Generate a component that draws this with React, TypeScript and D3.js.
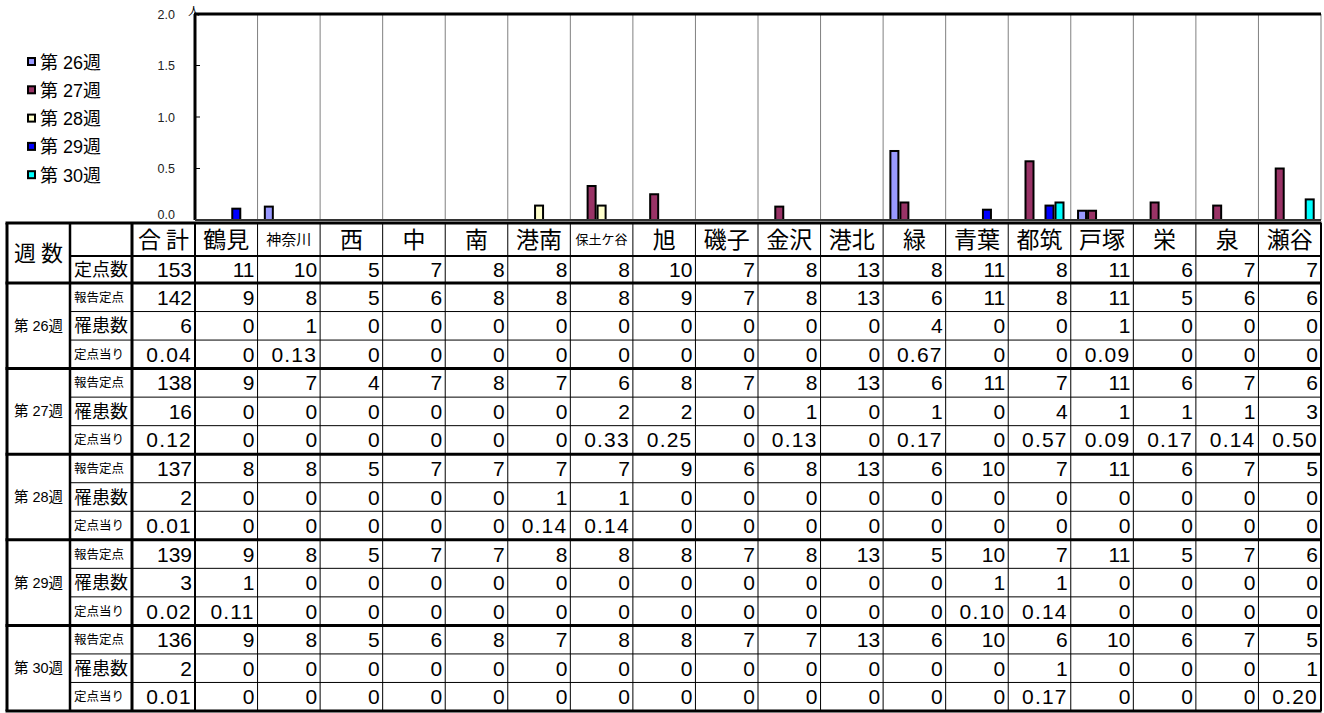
import React from 'react';
import * as d3 from 'd3';

// districts (columns of chart and table)
const districts = ['鶴見', '神奈川', '西', '中', '南', '港南', '保土ケ谷', '旭', '磯子', '金沢', '港北', '緑', '青葉', '都筑', '戸塚', '栄', '泉', '瀬谷'];
const weekLabels = ['第 26週', '第 27週', '第 28週', '第 29週', '第 30週'];
const weekColors = ['#9999FF', '#993366', '#FFFFCC', '#0000FF', '#00FFFF'];
const yTicks = [0, 0.5, 1.0, 1.5, 2.0];

// 定点数 (total first)
const sentinelTotal = 153;
const sentinels = [11, 10, 5, 7, 8, 8, 8, 10, 7, 8, 13, 8, 11, 8, 11, 6, 7, 7];

// week 26
const report26 = [142, 9, 8, 5, 6, 8, 8, 8, 9, 7, 8, 13, 6, 11, 8, 11, 5, 6, 6];
const cases26 = [6, 0, 1, 0, 0, 0, 0, 0, 0, 0, 0, 0, 4, 0, 0, 1, 0, 0, 0];
const rate26 = [0.04, 0, 0.13, 0, 0, 0, 0, 0, 0, 0, 0, 0, 0.67, 0, 0, 0.09, 0, 0, 0];
// week 27
const report27 = [138, 9, 7, 4, 7, 8, 7, 6, 8, 7, 8, 13, 6, 11, 7, 11, 6, 7, 6];
const cases27 = [16, 0, 0, 0, 0, 0, 0, 2, 2, 0, 1, 0, 1, 0, 4, 1, 1, 1, 3];
const rate27 = [0.12, 0, 0, 0, 0, 0, 0, 0.33, 0.25, 0, 0.13, 0, 0.17, 0, 0.57, 0.09, 0.17, 0.14, 0.5];
// week 28
const report28 = [137, 8, 8, 5, 7, 7, 7, 7, 9, 6, 8, 13, 6, 10, 7, 11, 6, 7, 5];
const cases28 = [2, 0, 0, 0, 0, 0, 1, 1, 0, 0, 0, 0, 0, 0, 0, 0, 0, 0, 0];
const rate28 = [0.01, 0, 0, 0, 0, 0, 0.14, 0.14, 0, 0, 0, 0, 0, 0, 0, 0, 0, 0, 0];
// week 29
const report29 = [139, 9, 8, 5, 7, 7, 8, 8, 8, 7, 8, 13, 5, 10, 7, 11, 5, 7, 6];
const cases29 = [3, 1, 0, 0, 0, 0, 0, 0, 0, 0, 0, 0, 0, 1, 1, 0, 0, 0, 0];
const rate29 = [0.02, 0.11, 0, 0, 0, 0, 0, 0, 0, 0, 0, 0, 0, 0.1, 0.14, 0, 0, 0, 0];
// week 30
const report30 = [136, 9, 8, 5, 6, 8, 7, 8, 8, 7, 7, 13, 6, 10, 6, 10, 6, 7, 5];
const cases30 = [2, 0, 0, 0, 0, 0, 0, 0, 0, 0, 0, 0, 0, 0, 1, 0, 0, 0, 1];
const rate30 = [0.01, 0, 0, 0, 0, 0, 0, 0, 0, 0, 0, 0, 0, 0, 0.17, 0, 0, 0, 0.2];

const weekRows = [
  [report26, cases26, rate26],
  [report27, cases27, rate27],
  [report28, cases28, rate28],
  [report29, cases29, rate29],
  [report30, cases30, rate30],
];
const rowLabels = ['報告定点', '罹患数', '定点当り'];

const FONT = "'Liberation Sans', Arial, 'Noto Sans CJK JP', sans-serif";
const JP = "'Noto Sans CJK JP', sans-serif";

const App = () => {
  const W = 1324;
  const H = 713;
  const left = 195;
  const right = 1321;
  const plotTop = 14;
  const plotBottom = 220;

  const x = d3.scaleBand<string>().domain(districts).range([left, right]);
  const bw = x.bandwidth();
  const pad = (bw - 50) / 2;
  const x1 = d3.scaleBand<string>().domain(weekLabels).range([pad, bw - pad]);
  const y = d3.scaleLinear().domain([0, 2]).range([plotBottom, plotTop]);

  const rates = weekRows.map(r => r[2].slice(1));

  // table geometry
  const tLeft = 7;
  const c1 = 70;
  const c2 = 132;
  const tTop = 223;
  const headBottom = 256;
  const sentBottom = 283;
  const tBottom = 711;
  const rowH = (tBottom - sentBottom) / 15;

  const fmt = (v: number, isRate: boolean) => (isRate && v !== 0 ? v.toFixed(2) : String(v));

  const headSize = (d: string) => (d.length >= 4 ? 13 : d.length === 3 ? 15 : 23);

  const numText = (v: string, xr: number, cy: number, key: string) => (
    <text key={key} x={xr - 3} y={cy + 7.5} textAnchor="end" fontSize={21} fontFamily={FONT}
      letterSpacing={v.includes('.') ? 1.2 : 0}>{v}</text>
  );

  return (
    <svg width={W} height={H} style={{ position: 'absolute', left: 0, top: 0, background: '#fff' }}>
      <rect width={W} height={H} fill="#fff" />

      {/* legend */}
      {weekLabels.map((w, i) => (
        <g key={w} transform={`translate(28,${62 + i * 28.3})`}>
          <rect x={0} y={-4} width={7} height={7} fill={weekColors[i]} stroke="#000" strokeWidth={2} />
          <text x={12} y={6.5} fontSize={18} fontFamily={FONT}>{w}</text>
        </g>
      ))}

      {/* category separators */}
      {districts.map(d => (
        <line key={d} x1={x(d)! + bw} x2={x(d)! + bw} y1={plotTop} y2={plotBottom} stroke="#808080" strokeWidth={1} />
      ))}

      {/* y axis */}
      {yTicks.map(t => (
        <g key={t}>
          <text x={175} y={t === 0 ? y(t) - 1 : y(t) + 4.5} textAnchor="end" fontSize={12.5} fill="#222" fontFamily={FONT}>{t.toFixed(1)}</text>
          {t > 0 && t < 2 && <line x1={left} x2={left + 5} y1={y(t)} y2={y(t)} stroke="#000" strokeWidth={1} />}
        </g>
      ))}
      <text x={188} y={15} fontSize={11.5} fontFamily={JP}>人</text>

      {/* bars */}
      {rates.map((vals, s) => vals.map((v, i) => v > 0 && (
        <rect key={`${s}-${i}`} x={x(districts[i])! + x1(weekLabels[s])! + 1} y={y(v)} width={x1.bandwidth() - 2}
          height={plotBottom - y(v)} fill={weekColors[s]} stroke="#000" strokeWidth={2} />
      )))}

      <line x1={left - 1} x2={right} y1={plotTop} y2={plotTop} stroke="#000" strokeWidth={3} />
      <line x1={left} x2={left} y1={plotTop} y2={plotBottom} stroke="#000" strokeWidth={3} />
      <line x1={left} x2={right} y1={plotBottom} y2={plotBottom} stroke="#333" strokeWidth={2} />

      {/* table header */}
      <text x={(tLeft + c1) / 2} y={(tTop + sentBottom) / 2 + 8} textAnchor="middle" fontSize={22} fontFamily={JP}>週 数</text>
      <text x={(c2 + left) / 2} y={(tTop + headBottom) / 2 + 8} textAnchor="middle" fontSize={23} fontFamily={JP}>合 計</text>
      {districts.map(d => (
        <text key={d} x={x(d)! + bw / 2} y={(tTop + headBottom) / 2 + headSize(d) * 0.36} textAnchor="middle"
          fontSize={headSize(d)} fontFamily={JP}>{d}</text>
      ))}

      {/* 定点数 row */}
      <text x={c1 + 4} y={(headBottom + sentBottom) / 2 + 6.5} fontSize={18} fontFamily={JP}>定点数</text>
      {numText(String(sentinelTotal), left, (headBottom + sentBottom) / 2, 'st')}
      {sentinels.map((v, i) => numText(String(v), x(districts[i])! + bw, (headBottom + sentBottom) / 2, `s${i}`))}

      {/* weekly rows */}
      {weekRows.map((rows, w) => {
        const top = sentBottom + w * 3 * rowH;
        return (
          <g key={w}>
            <text x={(tLeft + c1) / 2} y={top + 1.5 * rowH + 5} textAnchor="middle" fontSize={14.5} fontFamily={FONT}>{weekLabels[w]}</text>
            {rows.map((vals, r) => {
              const cy = top + (r + 0.5) * rowH;
              const big = r === 1;
              return (
                <g key={r}>
                  <text x={c1 + 4} y={cy + (big ? 6.5 : 4.5)} fontSize={big ? 18 : 12.5} fontFamily={JP}>{rowLabels[r]}</text>
                  {numText(fmt(vals[0], r === 2), left, cy, 't')}
                  {vals.slice(1).map((v, i) => numText(fmt(v, r === 2), x(districts[i])! + bw, cy, `v${i}`))}
                  {r > 0 && <line x1={c1} x2={right} y1={top + r * rowH} y2={top + r * rowH} stroke="#000" strokeWidth={1} />}
                </g>
              );
            })}
            <line x1={tLeft - 1.5} x2={right + 0.5} y1={top + 3 * rowH} y2={top + 3 * rowH} stroke="#000" strokeWidth={3} />
          </g>
        );
      })}

      {/* table grid */}
      <line x1={tLeft - 1.5} x2={right + 0.5} y1={tTop} y2={tTop} stroke="#000" strokeWidth={3} />
      <line x1={c1} x2={right} y1={headBottom} y2={headBottom} stroke="#000" strokeWidth={2} />
      <line x1={tLeft - 1.5} x2={right + 0.5} y1={sentBottom} y2={sentBottom} stroke="#000" strokeWidth={3} />
      <line x1={tLeft} x2={tLeft} y1={tTop} y2={tBottom} stroke="#000" strokeWidth={3} />
      <line x1={c1} x2={c1} y1={tTop} y2={tBottom} stroke="#000" strokeWidth={2.5} />
      <line x1={c2} x2={c2} y1={tTop} y2={tBottom} stroke="#000" strokeWidth={3} />
      <line x1={left} x2={left} y1={tTop} y2={tBottom} stroke="#000" strokeWidth={2} />
      {districts.map(d => (
        <line key={d} x1={x(d)! + bw} x2={x(d)! + bw} y1={tTop} y2={tBottom} stroke="#000" strokeWidth={d === '瀬谷' ? 2 : 1} />
      ))}
    </svg>
  );
};

export default App;
